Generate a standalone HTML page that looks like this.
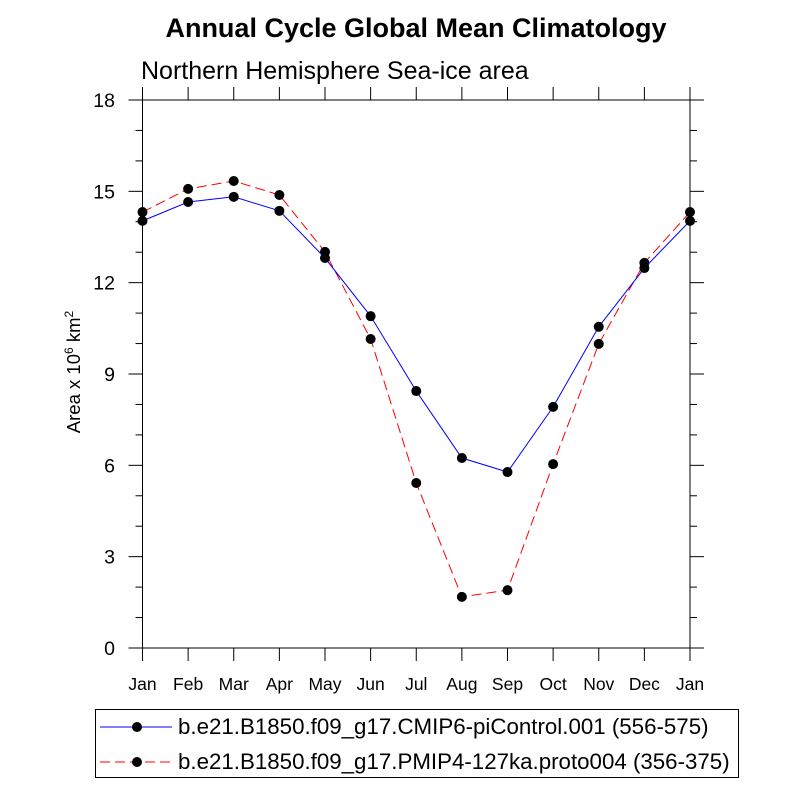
<!DOCTYPE html>
<html><head><meta charset="utf-8"><style>body{margin:0;background:#fff}svg{display:block;font-family:"Liberation Sans",sans-serif}</style></head>
<body>
<svg id="c" width="800" height="800">
<text x="416" y="37" font-size="27" font-weight="bold" text-anchor="middle">Annual Cycle Global Mean Climatology</text>
<text x="141" y="79" font-size="25">Northern Hemisphere Sea-ice area</text>
<text transform="translate(80,372) rotate(-90)" font-size="18.5" text-anchor="middle">Area x 10<tspan dy="-7" font-size="12">6</tspan><tspan dy="7"> km</tspan><tspan dy="-7" font-size="12">2</tspan></text>
<g id="axes"></g><g id="series"></g>
<rect x="95.5" y="709.5" width="643" height="68" fill="none" stroke="#000"/>
<g><line x1="100" y1="727" x2="172" y2="727" stroke="#00f"/><circle cx="137" cy="727" r="5" fill="#000"/><text x="178" y="734" font-size="22.3">b.e21.B1850.f09_g17.CMIP6-piControl.001 (556-575)</text></g>
<g><line x1="100" y1="762" x2="172" y2="762" stroke="#f00" stroke-dasharray="10,5"/><circle cx="137" cy="762" r="5" fill="#000"/><text x="178" y="769" font-size="22.3">b.e21.B1850.f09_g17.PMIP4-127ka.proto004 (356-375)</text></g>
</svg>
<script>
const months=["Jan","Feb","Mar","Apr","May","Jun","Jul","Aug","Sep","Oct","Nov","Dec","Jan"];
const piControl=[14.03,14.65,14.82,14.36,12.81,10.9,8.44,6.24,5.78,7.92,10.55,12.48,14.03];
const pmip127ka=[14.32,15.08,15.34,14.88,13.01,10.15,5.42,1.68,1.9,6.04,9.99,12.65,14.32];
const yTicks=[0,3,6,9,12,15,18];
const NS="http://www.w3.org/2000/svg";
const L=142.5,R=690,T=100,B=648;
const xs=i=>L+(R-L)*i/12, ys=v=>B-(B-T)*v/18;
function mk(t,a,p){const e=document.createElementNS(NS,t);for(const k in a)e.setAttribute(k,a[k]);p.appendChild(e);return e;}
const ax=document.getElementById('axes');
const fr=mk('rect',{x:L,y:T,width:R-L,height:B-T,fill:'none',stroke:'#000','stroke-width':1},ax);


months.forEach((m,i)=>{const x=xs(i);
mk('line',{x1:x,x2:x,y1:B,y2:B+13,stroke:'#000'},ax);
mk('line',{x1:x,x2:x,y1:T,y2:T-13,stroke:'#000'},ax);
const t=mk('text',{x:x,y:B+42,'font-size':17.5,'text-anchor':'middle'},ax);t.textContent=m;

});
for(let v=0;v<=18;v++){const y=ys(v),mj=v%3==0,len=mj?14:7;
mk('line',{x1:L,x2:L-len,y1:y,y2:y,stroke:'#000'},ax);
mk('line',{x1:R,x2:R+len,y1:y,y2:y,stroke:'#000'},ax);}
yTicks.forEach(v=>{const t=mk('text',{x:115,y:ys(v)+7,'font-size':19.5,'text-anchor':'end'},ax);t.textContent=v;

});
const sg=document.getElementById('series');
[[pmip127ka,'#f00','10,5','series-pmip4-127ka'],[piControl,'#00f','','series-picontrol']].forEach(([d,c,da,n])=>{
const g=mk('g',{},sg);


mk('polyline',{points:d.map((v,i)=>xs(i)+','+ys(v)).join(' '),fill:'none',stroke:c,'stroke-dasharray':da},g);
d.forEach((v,i)=>{const p=mk('circle',{cx:xs(i),cy:ys(v),r:5,fill:'#000'},g);

});});
</script>
</body></html>
